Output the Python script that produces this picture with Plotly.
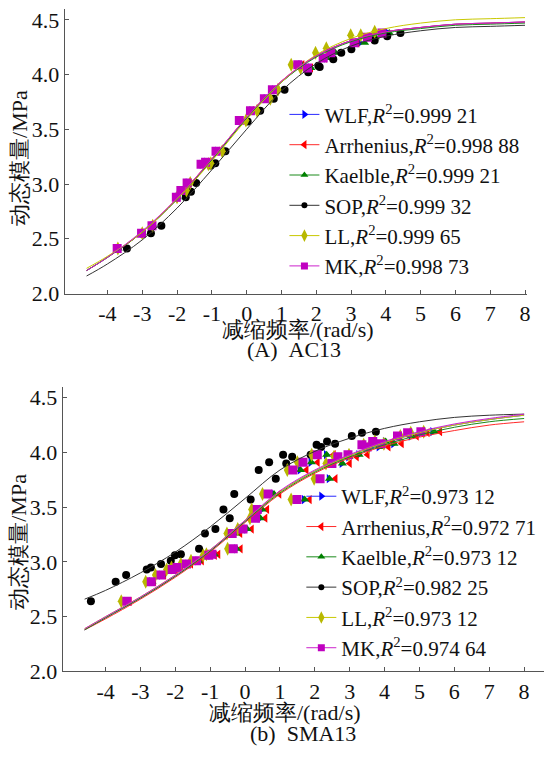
import plotly.graph_objects as go

# ---------------- data ----------------
models = ["WLF", "Arrhenius", "Kaelble", "SOP", "LL", "MK"]
r2_ac13 = ["0.999 21", "0.998 88", "0.999 21", "0.999 32", "0.999 65", "0.998 73"]
r2_sma13 = ["0.973 12", "0.972 71", "0.973 12", "0.982 25", "0.973 12", "0.974 64"]

x_ticks = [-4, -3, -2, -1, 0, 1, 2, 3, 4, 5, 6, 7, 8]
x_tick_labels = ["-4", "-3", "-2", "-1", "0", "1", "2", "3", "4", "5", "6", "7", "8"]
y_ticks = [2.0, 2.5, 3.0, 3.5, 4.0, 4.5]
y_tick_labels = ["2.0", "2.5", "3.0", "3.5", "4.0", "4.5"]

# fitted master curves (read at sample frequencies)
curve_x = [-4.6, -4, -3, -2, -1, 0, 1, 2, 3, 4, 5, 6, 7, 8]

ac13_curve_wlf = [2.21, 2.33, 2.56, 2.86, 3.22, 3.60, 3.93, 4.17, 4.31, 4.39, 4.43, 4.46, 4.47, 4.48]
ac13_curve_arr = [2.21, 2.33, 2.56, 2.87, 3.23, 3.61, 3.94, 4.17, 4.31, 4.39, 4.43, 4.46, 4.47, 4.48]
ac13_curve_kae = [2.21, 2.33, 2.56, 2.86, 3.22, 3.60, 3.93, 4.16, 4.30, 4.38, 4.42, 4.45, 4.46, 4.47]
ac13_curve_sop = [2.16, 2.27, 2.49, 2.78, 3.13, 3.50, 3.85, 4.10, 4.26, 4.35, 4.40, 4.43, 4.44, 4.45]
ac13_curve_ll = [2.23, 2.34, 2.56, 2.86, 3.21, 3.59, 3.93, 4.18, 4.33, 4.42, 4.47, 4.50, 4.51, 4.52]
ac13_curve_mk = [2.21, 2.33, 2.57, 2.87, 3.23, 3.61, 3.94, 4.17, 4.31, 4.39, 4.43, 4.46, 4.47, 4.48]

sma13_curve_wlf = [2.38, 2.49, 2.67, 2.87, 3.10, 3.37, 3.64, 3.83, 3.97, 4.09, 4.18, 4.25, 4.30, 4.34]
sma13_curve_arr = [2.38, 2.48, 2.66, 2.86, 3.09, 3.36, 3.62, 3.81, 3.95, 4.06, 4.14, 4.20, 4.25, 4.28]
sma13_curve_kae = [2.38, 2.49, 2.67, 2.87, 3.10, 3.37, 3.63, 3.82, 3.96, 4.07, 4.16, 4.23, 4.28, 4.31]
sma13_curve_sop = [2.66, 2.74, 2.90, 3.09, 3.32, 3.58, 3.84, 4.01, 4.13, 4.22, 4.28, 4.32, 4.34, 4.35]
sma13_curve_ll = [2.39, 2.50, 2.68, 2.88, 3.11, 3.38, 3.64, 3.83, 3.97, 4.09, 4.18, 4.25, 4.30, 4.34]
sma13_curve_mk = [2.39, 2.50, 2.68, 2.88, 3.11, 3.38, 3.65, 3.84, 3.98, 4.10, 4.19, 4.26, 4.31, 4.35]

# shifted test data, AC13
ac13_y = [2.41, 2.55, 2.62, 2.88, 2.94, 3.01, 3.18, 3.20, 3.30, 3.58, 3.67, 3.78, 3.86, 4.09, 4.06, 4.15, 4.20, 4.29, 4.34, 4.38]
ac13_y_ll = [2.41, 2.55, 2.62, 2.88, 2.94, 3.01, 3.18, 3.19, 3.30, 3.58, 3.67, 3.78, 3.86, 4.09, 4.06, 4.20, 4.24, 4.36, 4.36, 4.39]
ac13_x_wlf = [-3.70, -3.00, -2.70, -2.00, -1.87, -1.69, -1.29, -1.16, -0.85, -0.18, 0.14, 0.55, 0.79, 1.55, 1.82, 2.28, 2.52, 3.25, 3.65, 4.05]
ac13_x_arr = [-3.68, -2.98, -2.68, -1.98, -1.85, -1.67, -1.27, -1.14, -0.84, -0.17, 0.15, 0.56, 0.80, 1.60, 1.85, 2.25, 2.45, 3.18, 3.55, 3.95]
ac13_x_kae = [-3.69, -2.99, -2.69, -1.99, -1.86, -1.68, -1.28, -1.15, -0.84, -0.16, 0.16, 0.57, 0.82, 1.58, 1.85, 2.30, 2.55, 3.39, 3.70, 4.10]
ac13_x_ll = [-3.70, -3.00, -2.70, -2.00, -1.73, -1.62, -1.10, -1.03, -0.70, -0.02, 0.30, 0.68, 0.90, 1.28, 1.55, 1.98, 2.29, 2.99, 3.28, 3.68]
ac13_x_mk = [-3.72, -3.02, -2.72, -2.02, -1.89, -1.71, -1.31, -1.18, -0.88, -0.21, 0.11, 0.51, 0.74, 1.47, 1.75, 2.20, 2.42, 3.09, 3.47, 3.89]
ac13_x_sop = [-3.44, -2.75, -2.45, -1.75, -1.60, -1.45, -1.03, -0.90, -0.61, 0.03, 0.39, 0.78, 1.09, 1.77, 2.06, 2.10, 2.49, 2.72, 3.01, 3.68, 4.04, 4.42]
ac13_y_sop = [2.41, 2.55, 2.62, 2.88, 2.93, 3.01, 3.17, 3.19, 3.30, 3.57, 3.67, 3.78, 3.86, 4.02, 4.08, 4.07, 4.14, 4.20, 4.23, 4.31, 4.35, 4.38]

# shifted test data, SMA13
sma13_y = [2.64, 2.82, 2.88, 2.93, 2.95, 2.98, 3.01, 3.06, 3.07, 3.12, 3.26, 3.30, 3.48, 3.40, 3.62,
           3.57, 3.84, 3.91, 3.76, 3.98, 3.90, 3.96, 3.98, 4.07, 4.05, 4.10, 4.08, 4.15, 4.18, 4.19]
sma13_x_sop = [-4.42, -3.71, -3.41, -2.82, -2.70, -2.41, -2.13, -2.01, -1.84, -1.32, -1.15, -0.85, -0.62, -0.44, -0.31,
               0.16, 0.39, 0.69, 0.88, 1.09, 1.18, 1.35, 1.88, 2.05, 2.18, 2.35, 2.58, 3.06, 3.35, 3.75]
sma13_x_mk = [-3.39, -2.69, -2.41, -2.09, -1.95, -1.68, -1.39, -1.04, -0.95, -0.34, -0.37, -0.06, 0.35, 0.30, 0.66,
              1.49, 1.37, 1.66, 2.15, 2.07, 2.49, 2.66, 2.95, 3.35, 3.50, 3.66, 3.90, 4.37, 4.66, 5.04]
sma13_x_wlf = [-3.39, -2.69, -2.41, -2.09, -1.95, -1.66, -1.36, -0.99, -0.90, -0.26, -0.29, 0.04, 0.47, 0.42, 0.81,
               1.69, 1.57, 1.88, 2.40, 2.32, 2.77, 2.96, 3.25, 3.68, 3.83, 4.01, 4.25, 4.75, 5.04, 5.37]
sma13_x_kae = [-3.37, -2.67, -2.39, -2.07, -1.93, -1.64, -1.34, -0.97, -0.88, -0.24, -0.27, 0.06, 0.49, 0.44, 0.83,
               1.71, 1.59, 1.90, 2.42, 2.34, 2.79, 2.98, 3.27, 3.70, 3.85, 4.03, 4.27, 4.77, 5.06, 5.42]
sma13_x_arr = [-3.31, -2.61, -2.32, -1.99, -1.84, -1.55, -1.24, -0.87, -0.77, -0.13, -0.14, 0.19, 0.63, 0.58, 0.98,
               1.85, 1.76, 2.08, 2.59, 2.54, 3.00, 3.20, 3.51, 3.94, 4.11, 4.23, 4.49, 4.92, 5.23, 5.59]
sma13_x_ll = [-3.55, -2.85, -2.57, -2.25, -2.11, -1.84, -1.55, -1.20, -1.11, -0.50, -0.52, -0.21, 0.19, 0.14, 0.50,
              1.32, 1.21, 1.50, 1.98, 1.91, 2.32, 2.55, 2.98, 3.40, 3.55, 3.72, 3.98, 4.45, 4.75, 5.12]

# ---------------- styles ----------------
line_colors = ["#2a2aff", "#ff2a2a", "#1a8a1a", "#333333", "#c8c800", "#cc22cc"]
marker_colors = ["#0000ff", "#ff0000", "#008000", "#000000", "#b8b800", "#c000c0"]
symbols = ["triangle-right", "triangle-left", "triangle-up", "circle", "diamond-tall", "square"]
msizes = [8, 8, 8, 8, 10, 9]
leg_msizes = [8, 8, 7, 6, 9, 7]

FONT = "Liberation Serif"
W, H = 547, 760

fig = go.Figure()

charts = [
    dict(xa="x", ya="y", legend="legend", r2=r2_ac13,
         curves=[ac13_curve_wlf, ac13_curve_arr, ac13_curve_kae, ac13_curve_sop, ac13_curve_ll, ac13_curve_mk],
         xs=[ac13_x_wlf, ac13_x_arr, ac13_x_kae, ac13_x_sop, ac13_x_ll, ac13_x_mk],
         ys=[ac13_y, ac13_y, ac13_y, ac13_y_sop, ac13_y_ll, ac13_y]),
    dict(xa="x2", ya="y2", legend="legend2", r2=r2_sma13,
         curves=[sma13_curve_wlf, sma13_curve_arr, sma13_curve_kae, sma13_curve_sop, sma13_curve_ll, sma13_curve_mk],
         xs=[sma13_x_wlf, sma13_x_arr, sma13_x_kae, sma13_x_sop, sma13_x_ll, sma13_x_mk],
         ys=[sma13_y] * 6),
]

for c in charts:
    for i, m in enumerate(models):
        fig.add_trace(go.Scatter(
            x=c["xs"][i], y=c["ys"][i], mode="markers", xaxis=c["xa"], yaxis=c["ya"],
            marker=dict(symbol=symbols[i], size=msizes[i], color=marker_colors[i], line=dict(width=0)),
            showlegend=False, hoverinfo="skip"))
    for i, m in enumerate(models):
        fig.add_trace(go.Scatter(
            x=curve_x, y=c["curves"][i], mode="lines", xaxis=c["xa"], yaxis=c["ya"],
            line=dict(color=line_colors[i], width=1, shape="spline", smoothing=1.0),
            showlegend=False, hoverinfo="skip"))
    for i, m in enumerate(models):
        fig.add_trace(go.Scatter(
            x=[None], y=[None], mode="lines+markers", xaxis=c["xa"], yaxis=c["ya"],
            line=dict(color=line_colors[i], width=1),
            marker=dict(symbol=symbols[i], size=leg_msizes[i], color=marker_colors[i]),
            name=f"{m},<i>R</i><sup>2</sup>={c['r2'][i]}", legend=c["legend"], showlegend=True))


def px_x(p):
    return p / W


def px_y(p):
    return 1 - p / H


axis_common = dict(
    showgrid=False, zeroline=False, showline=True, linecolor="#555555", linewidth=1,
    ticks="inside", ticklen=4, tickcolor="#555555", tickwidth=1,
    tickfont=dict(family=FONT, size=22, color="#111111"),
)
xaxis_ticks = dict(tickmode="array", tickvals=x_ticks, ticktext=x_tick_labels)
yaxis_ticks = dict(tickmode="array", tickvals=y_ticks, ticktext=y_tick_labels)

LEG_FONT = dict(family=FONT, size=21, color="#111111")

fig.update_layout(
    width=W, height=H, margin=dict(l=0, r=0, t=0, b=0),
    paper_bgcolor="white", plot_bgcolor="white",
    font=dict(family=FONT, color="#111111"),
    xaxis=dict(domain=[px_x(65), px_x(530)], range=[-5.23, 8.06], anchor="y", **xaxis_ticks, **axis_common),
    yaxis=dict(domain=[px_y(298), px_y(8)], range=[2.0, 4.6], anchor="x", **yaxis_ticks, **axis_common),
    xaxis2=dict(domain=[px_x(63), 1.0], range=[-5.23, 8.57], anchor="y2", **xaxis_ticks, **axis_common),
    yaxis2=dict(domain=[px_y(683), px_y(393)], range=[2.0, 4.6], anchor="x2", **yaxis_ticks, **axis_common),
    legend=dict(x=px_x(286), y=px_y(95), xanchor="left", yanchor="top", bgcolor="rgba(0,0,0,0)",
                font=LEG_FONT, tracegroupgap=0, itemwidth=30),
    legend2=dict(x=px_x(303), y=px_y(484), xanchor="left", yanchor="top", bgcolor="rgba(0,0,0,0)",
                 font=LEG_FONT, tracegroupgap=0, itemwidth=30),
)

annots = [
    dict(text="减缩频率/(rad/s)", x=px_x(300), y=px_y(335)),
    dict(text="(A)\u00a0\u00a0AC13", x=px_x(296), y=px_y(355)),
    dict(text="减缩频率/(rad/s)", x=px_x(287), y=px_y(725)),
    dict(text="(b)\u00a0\u00a0SMA13", x=px_x(305), y=px_y(746)),
    dict(text="动态模量/MPa", x=px_x(19), y=px_y(160), textangle=-90),
    dict(text="动态模量/MPa", x=px_x(19), y=px_y(551), textangle=-90),
]
for a in annots:
    fig.add_annotation(xref="paper", yref="paper", showarrow=False, xanchor="center", yanchor="middle",
                       font=dict(family=FONT, size=22, color="#111111"), **a)

fig.write_html("out.html")
